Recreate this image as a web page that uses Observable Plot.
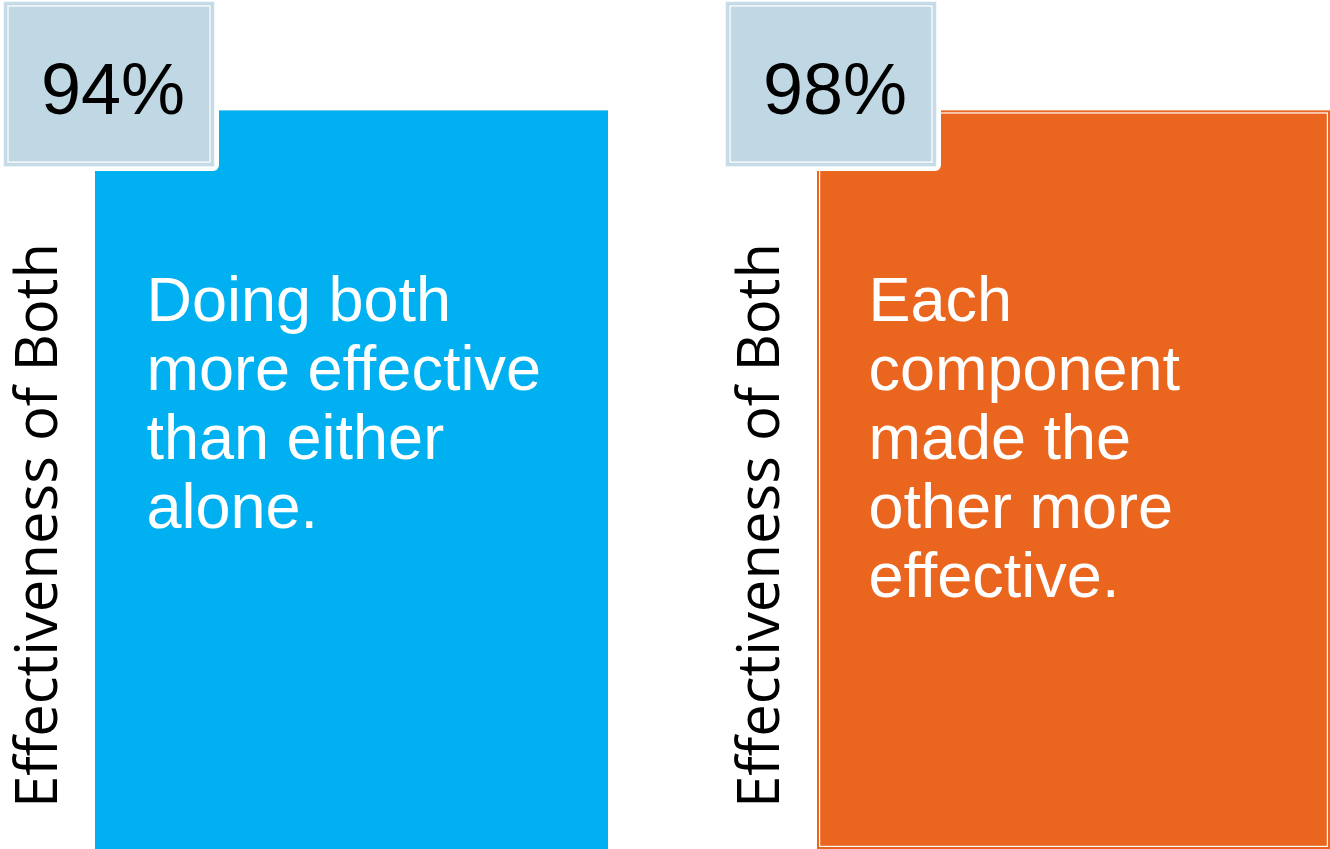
<!DOCTYPE html>
<html><head><meta charset="utf-8">
<script src="https://cdn.jsdelivr.net/npm/d3@7"></script>
<script src="https://cdn.jsdelivr.net/npm/@observablehq/plot@0.6"></script>
<style>html,body{margin:0;padding:0;background:#fff;overflow:hidden}</style>
</head><body><div id="chart"></div>
<script>
const categories = ["Doing both", "Each component"];
const percents = [94, 98];
const descriptions = [
  "Doing both\nmore effective\nthan either\nalone.",
  "Each\ncomponent\nmade the\nother more\neffective."
];
const axisLabels = ["Effectiveness of Both", "Effectiveness of Both"];
const colors = ["#00b0f0", "#ea651e"];

const data = categories.map((c, i) => ({
  category: c, percent: percents[i], description: descriptions[i],
  axisLabel: axisLabels[i], color: colors[i]
}));

const BAR_TOP = 87.0;      // layout (fraction of height, %)
const BOX_BOTTOM = 80.55, BOX_TOP = 99.65;
const arial = "Liberation Sans, Arial, sans-serif";

const chart = Plot.plot({
  width: 1330, height: 849,
  marginTop: 0, marginBottom: 0, marginLeft: 94, marginRight: 0,
  x: {type: "band", domain: categories, paddingInner: 0.29, paddingOuter: 0, axis: null},
  y: {domain: [0, 100], axis: null},
  color: {type: "identity"},
  marks: [
    Plot.barY(data, {x: "category", y1: 0, y2: BAR_TOP, fill: "color"}),
    Plot.barY(data.filter(d => d.category === categories[1]), {x: "category", y1: 0, y2: BAR_TOP, fill: "none", stroke: "white", strokeWidth: 1.2, inset: 2.6}),
    // white halo behind label box
    Plot.barY(data, {x: "category", y1: BOX_BOTTOM - 0.7, y2: 100, fill: "white", insetLeft: -96, insetRight: 389, rx: 6}),
    // label box
    Plot.barY(data, {x: "category", y1: BOX_BOTTOM, y2: BOX_TOP, fill: "#c0d8e4", stroke: "#c6dce8", strokeWidth: 2.5, insetLeft: -90, insetRight: 395}),
    Plot.barY(data, {x: "category", y1: BOX_BOTTOM, y2: BOX_TOP, fill: "none", stroke: "white", strokeWidth: 1.3, insetLeft: -87, insetRight: 398, insetTop: 3, insetBottom: 3}),
    Plot.text(data, {x: "category", y: 89.4, text: d => d.percent + "%", fontSize: 72, fontFamily: arial, fill: "black", dx: -239, lineAnchor: "middle"}),
    Plot.text(data, {x: "category", y: 68.0, text: "description", lineAnchor: "top", textAnchor: "start", dx: -205.6, fontSize: 63, lineHeight: 1.095, fill: "white", fontFamily: arial}),
    Plot.text(data, {x: "category", y: 38.16, text: "axisLabel", rotate: -90, fontSize: 58, fontFamily: "Open Sans, sans-serif", fill: "black", dx: -314, lineAnchor: "middle"})
  ]
});
document.getElementById("chart").appendChild(chart);
</script>
</body></html>
